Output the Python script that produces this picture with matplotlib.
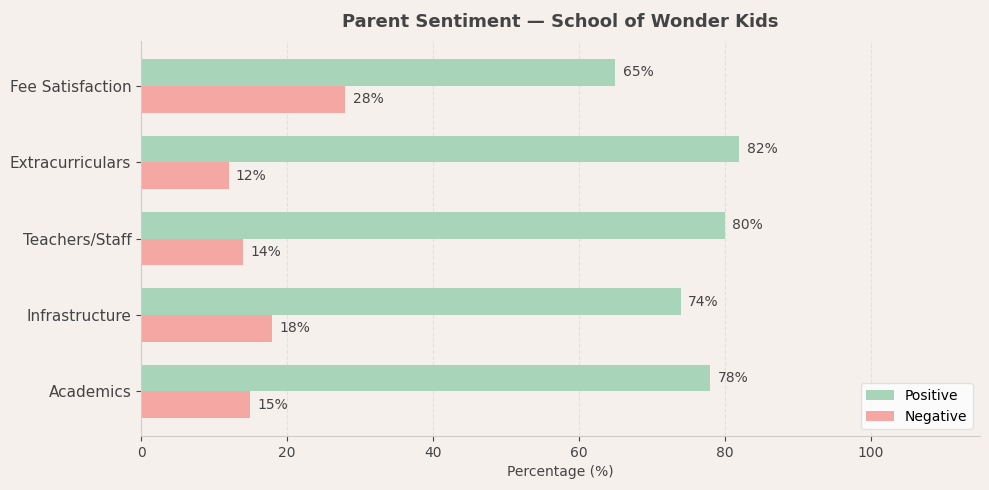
import matplotlib
matplotlib.use('Agg')
import matplotlib.pyplot as plt
import numpy as np

categories = ['Academics', 'Infrastructure', 'Teachers/Staff', 'Extracurriculars', 'Fee Satisfaction']
positive = [78, 74, 80, 82, 65]
negative = [15, 18, 14, 12, 28]

bg = '#f5f0ec'
text_col = '#444444'

fig = plt.figure(figsize=(9.89, 4.9), dpi=100, facecolor=bg)
ax = fig.add_axes([0.1426, 0.110, 0.8484, 0.806])
ax.set_facecolor(bg)

y = np.arange(len(categories))
h = 0.35
b1 = ax.barh(y + h / 2, positive, h, color='#a8d5ba', label='Positive')
b2 = ax.barh(y - h / 2, negative, h, color='#f5a7a3', label='Negative')

for bars in (b1, b2):
    for bar in bars:
        w = bar.get_width()
        ax.text(w + 1, bar.get_y() + bar.get_height() / 2, f'{w:.0f}%',
                va='center', ha='left', fontsize=10, color=text_col)

ax.set_yticks(y)
ax.set_yticklabels(categories, fontsize=11, color=text_col)
ax.tick_params(axis='x', labelsize=10, colors=text_col)
ax.tick_params(axis='y', colors=text_col)
ax.set_xlim(0, 115)
ax.set_xlabel('Percentage (%)', fontsize=10, color=text_col)
ax.set_title('Parent Sentiment — School of Wonder Kids', fontsize=13,
             fontweight='bold', color=text_col, pad=10)

ax.grid(axis='x', linestyle='--', alpha=0.3, color='#bbbbbb')
ax.set_axisbelow(True)
for s in ['top', 'right']:
    ax.spines[s].set_visible(False)
for s in ['left', 'bottom']:
    ax.spines[s].set_color('#cccccc')

ax.legend(loc='lower right', fontsize=10, facecolor='white', framealpha=0.8,
          edgecolor='#dddddd')

plt.savefig('out.png', dpi=100, facecolor=bg)
